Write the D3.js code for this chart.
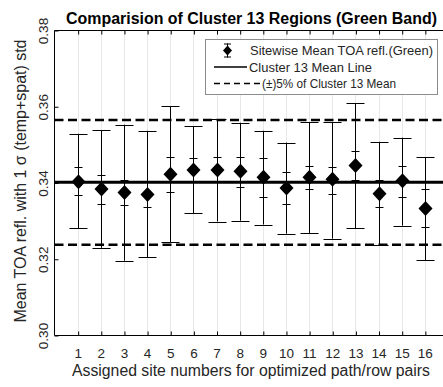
<!DOCTYPE html>
<html>
<head>
<meta charset="utf-8">
<script src="https://cdn.jsdelivr.net/npm/d3@7"></script>
<style>
  html, body { margin: 0; padding: 0; background: #fff; }
  svg { display: block; font-family: Arial, "Liberation Sans", sans-serif; }
</style>
</head>
<body>
<svg id="chart" width="443" height="387"></svg>
<script>
// ---- data ----
const sites      = [1, 2, 3, 4, 5, 6, 7, 8, 9, 10, 11, 12, 13, 14, 15, 16];
const siteMeans  = [0.3403, 0.3384, 0.3375, 0.3370, 0.3423, 0.3434, 0.3434, 0.3431, 0.3415, 0.3387, 0.3415, 0.3410, 0.3446, 0.3372, 0.3406, 0.3333];
const tempHigh   = [0.3441, 0.3422, 0.3407, 0.3403, 0.3469, 0.3465, 0.3467, 0.3467, 0.3465, 0.3430, 0.3445, 0.3443, 0.3484, 0.3408, 0.3445, 0.3384];
const tempLow    = [0.3368, 0.3346, 0.3342, 0.3338, 0.3376, 0.3406, 0.3406, 0.3390, 0.3363, 0.3345, 0.3384, 0.3370, 0.3408, 0.3338, 0.3363, 0.3285];
const totalHigh  = [0.3529, 0.3539, 0.3553, 0.3537, 0.3601, 0.3549, 0.3567, 0.3558, 0.3537, 0.3506, 0.3560, 0.3560, 0.3610, 0.3508, 0.3519, 0.3468];
const totalLow   = [0.3282, 0.3230, 0.3196, 0.3205, 0.3244, 0.3321, 0.3299, 0.3301, 0.3291, 0.3267, 0.3269, 0.3254, 0.3282, 0.3238, 0.3288, 0.3198];
const clusterMean = [0.3402];
const bandLines   = [0.3565, 0.3238];
const yTicks      = [0.30, 0.32, 0.34, 0.36, 0.38];
const legendLabels = ["Sitewise Mean TOA refl.(Green)", "Cluster 13 Mean Line", "(\u00b1)5% of Cluster 13 Mean"];
const titleText  = "Comparision of Cluster 13 Regions (Green Band)";
const xLabelText = "Assigned site numbers for optimized path/row pairs";
const yLabelText = "Mean TOA refl. with 1 \u03c3 (temp+spat) std";

// ---- layout ----
const svg = d3.select("#chart");
const L = 54.5, R = 448, T = 30.5, B = 335.5;
const x = d3.scaleLinear().domain([0, 17]).range([L, R]);
const y = d3.scaleLinear().domain([0.30, 0.38]).range([B, T]);
const txt = "#262626";
const FONT = "Arial, 'Liberation Sans', sans-serif";

// grid lines
svg.append("g").selectAll("line").data(sites).join("line")
  .attr("x1", d => Math.round(x(d)) + 0.5).attr("x2", d => Math.round(x(d)) + 0.5)
  .attr("y1", T).attr("y2", B)
  .attr("stroke", "#e8e8e8").attr("stroke-width", 1);

// axes frame
const frame = svg.append("g").attr("stroke", "#000").attr("stroke-width", 1).attr("fill", "none");
frame.append("line").attr("x1", L).attr("x2", R).attr("y1", T).attr("y2", T);
frame.append("line").attr("x1", L).attr("x2", R).attr("y1", B).attr("y2", B);
frame.append("line").attr("x1", L).attr("x2", L).attr("y1", T).attr("y2", B);

// bottom axis (inward ticks)
const xAxisB = d3.axisBottom(x).tickValues(sites).tickSizeInner(-4).tickSizeOuter(0).tickPadding(14)
  .tickFormat(d3.format("d"));
const gxb = svg.append("g").attr("transform", `translate(0,${B})`).call(xAxisB);
gxb.select(".domain").remove();
gxb.selectAll(".tick line").attr("stroke", "#000").attr("transform", "translate(0.5,0)");
gxb.selectAll(".tick text").attr("fill", txt).attr("font-size", 13.5).attr("font-family", FONT)
  .attr("dy", "0.62em");

// top axis ticks
const xAxisT = d3.axisTop(x).tickValues(sites).tickSizeInner(-4).tickSizeOuter(0).tickFormat("");
const gxt = svg.append("g").attr("transform", `translate(0,${T})`).call(xAxisT);
gxt.select(".domain").remove();
gxt.selectAll(".tick line").attr("stroke", "#000").attr("transform", "translate(0.5,0)");

// left axis
const yAxis = d3.axisLeft(y).tickValues(yTicks).tickSizeInner(-4).tickSizeOuter(0).tickFormat(d3.format(".2f"));
const gy = svg.append("g").attr("transform", `translate(${L},0)`).call(yAxis);
gy.select(".domain").remove();
gy.selectAll(".tick line").attr("stroke", "#000");
gy.selectAll(".tick text")
  .attr("fill", txt).attr("font-size", 13.5).attr("font-family", FONT)
  .attr("x", null).attr("dy", null)
  .attr("text-anchor", "middle")
  .attr("transform", "translate(-6.5,0) rotate(-90)");

// cluster mean & band lines
svg.append("g").selectAll("line").data(clusterMean).join("line")
  .attr("x1", L).attr("x2", R).attr("y1", d => y(d)).attr("y2", d => y(d))
  .attr("stroke", "#000").attr("stroke-width", 3);
svg.append("g").selectAll("line").data(bandLines).join("line")
  .attr("x1", L).attr("x2", R).attr("y1", d => y(d)).attr("y2", d => y(d))
  .attr("stroke", "#000").attr("stroke-width", 2.5).attr("stroke-dasharray", "9,4.5");

// error bars
const bars = svg.append("g").attr("stroke", "#000").attr("stroke-width", 1);
sites.forEach((s, i) => {
  const cx = Math.round(x(s)) + 0.5;
  bars.append("line").attr("x1", cx).attr("x2", cx).attr("y1", y(totalHigh[i])).attr("y2", y(totalLow[i]));
  [totalHigh[i], totalLow[i]].forEach(v => {
    bars.append("line").attr("x1", cx - 9).attr("x2", cx + 9).attr("y1", Math.round(y(v)) + 0.5).attr("y2", Math.round(y(v)) + 0.5);
  });
  [tempHigh[i], tempLow[i]].forEach(v => {
    bars.append("line").attr("x1", cx - 4).attr("x2", cx + 4).attr("y1", Math.round(y(v)) + 0.5).attr("y2", Math.round(y(v)) + 0.5);
  });
});

// diamonds
const diamond = (cx, cy, w, h) => `M${cx},${cy - h}L${cx + w},${cy}L${cx},${cy + h}L${cx - w},${cy}Z`;
svg.append("g").selectAll("path").data(sites).join("path")
  .attr("d", (d, i) => diamond(Math.round(x(d)) + 0.5, y(siteMeans[i]), 7, 7.5))
  .attr("fill", "#000");

// legend
const lg = svg.append("g");
lg.append("rect").attr("x", 205.5).attr("y", 39.5).attr("width", 232).attr("height", 55)
  .attr("fill", "#fff").attr("stroke", "#8c8c8c").attr("stroke-width", 1);
const rowsY = [50.5, 67, 83.5];
// row 1: marker with error bar
lg.append("line").attr("x1", 227.5).attr("x2", 227.5).attr("y1", rowsY[0] - 7).attr("y2", rowsY[0] + 7).attr("stroke", "#000");
lg.append("line").attr("x1", 224).attr("x2", 231).attr("y1", rowsY[0] - 6.5).attr("y2", rowsY[0] - 6.5).attr("stroke", "#000");
lg.append("line").attr("x1", 224).attr("x2", 231).attr("y1", rowsY[0] + 6.5).attr("y2", rowsY[0] + 6.5).attr("stroke", "#000");
lg.append("path").attr("d", diamond(227.5, rowsY[0], 4.5, 5)).attr("fill", "#000");
// row 2: solid line
lg.append("line").attr("x1", 214).attr("x2", 247).attr("y1", rowsY[1]).attr("y2", rowsY[1]).attr("stroke", "#000").attr("stroke-width", 1.5);
// row 3: dashed line
lg.append("line").attr("x1", 214).attr("x2", 260).attr("y1", rowsY[2]).attr("y2", rowsY[2]).attr("stroke", "#000").attr("stroke-width", 1.5).attr("stroke-dasharray", "6,4");
const textX = [250, 249, 262];
const textW = [183, 123, 134];
lg.selectAll("text").data(legendLabels).join("text")
  .attr("x", (d, i) => textX[i]).attr("y", (d, i) => rowsY[i] + 4.7)
  .attr("font-size", 13).attr("fill", txt)
  .attr("textLength", (d, i) => textW[i]).attr("lengthAdjust", "spacingAndGlyphs")
  .text(d => d);

// title & axis labels
svg.append("text").attr("x", 251.5).attr("y", 24).attr("text-anchor", "middle")
  .attr("font-size", 16).attr("font-weight", "bold").attr("fill", "#000")
  .attr("textLength", 371).attr("lengthAdjust", "spacingAndGlyphs").text(titleText);
svg.append("text").attr("x", 251).attr("y", 376).attr("text-anchor", "middle")
  .attr("font-size", 16).attr("fill", txt)
  .attr("textLength", 358).attr("lengthAdjust", "spacingAndGlyphs").text(xLabelText);
svg.append("text").attr("transform", `translate(25.5,181) rotate(-90)`).attr("text-anchor", "middle")
  .attr("font-size", 16).attr("fill", txt)
  .attr("textLength", 283).attr("lengthAdjust", "spacingAndGlyphs").text(yLabelText);
</script>
</body>
</html>
